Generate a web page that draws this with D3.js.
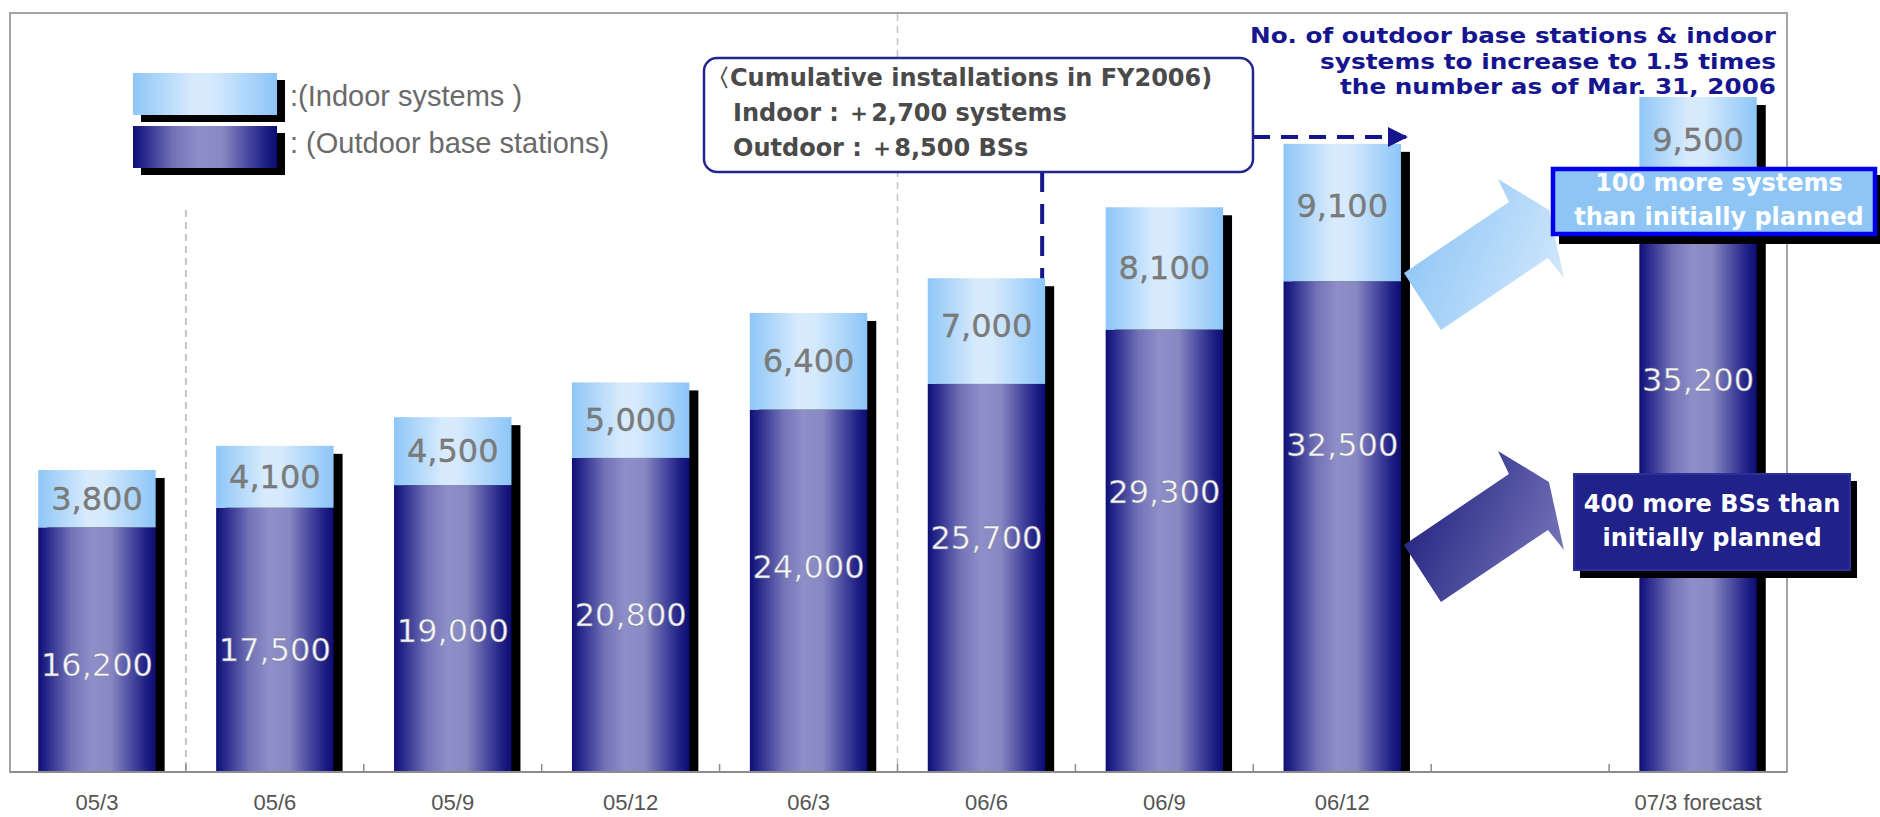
<!DOCTYPE html>
<html>
<head>
<meta charset="utf-8">
<script src="https://cdn.jsdelivr.net/npm/d3@7"></script>
<style>
  html, body { margin: 0; padding: 0; background: #fff; }
  svg { display: block; }
</style>
</head>
<body>
<svg id="chart" width="1880" height="817"></svg>
<script>
// ---------------- data ----------------
const categories = ["05/3", "05/6", "05/9", "05/12", "06/3", "06/6", "06/9", "06/12", "07/3 forecast"];
const outdoor = [16200, 17500, 19000, 20800, 24000, 25700, 29300, 32500, 35200];
const indoor  = [3800, 4100, 4500, 5000, 6400, 7000, 8100, 9100, 9500];
const seriesNames = [":(Indoor systems )", ": (Outdoor base stations)"];
const calloutLines = ["\u3008Cumulative installations in FY2006)", "Indoor :  \uFF0B2,700 systems", "Outdoor :  \uFF0B8,500 BSs"];
const titleLines = ["No. of outdoor base stations & indoor", "systems to increase to 1.5 times", "the number as of Mar. 31, 2006"];
const indoorNote = ["100 more systems", "than initially planned"];
const outdoorNote = ["400 more BSs than", "initially planned"];

// layout-only constants (label placement within each segment, 0 = bottom, 1 = top)
const outdoorLabelFrac = [0.437, 0.46, 0.49, 0.5, 0.566, 0.603, 0.633, 0.666, 0.737];
const indoorLabelFrac  = [0.5, 0.5, 0.5, 0.5, 0.5, 0.55, 0.5, 0.55, 0.7];
const titleWidths = [526, 456, 436];

// ---------------- setup ----------------
const svg = d3.select("#chart");
const slots = categories.slice(0, 8).concat(["_gap"], categories.slice(8));
const x = d3.scaleBand().domain(slots).range([8, 1787]).paddingInner(0.34).paddingOuter(0.17);
const y = d3.scaleLinear().domain([0, 50000]).range([772, 17]);
const bw = x.bandwidth();
const fmt = d3.format(",");

const defs = svg.append("defs");
const gOut = defs.append("linearGradient").attr("id", "gOut").attr("x1", 0).attr("x2", 1).attr("y1", 0).attr("y2", 0);
[[0, "#0e0e76"], [0.08, "#2a2a8c"], [0.28, "#7272b8"], [0.45, "#8e8ec8"], [0.62, "#8888c2"], [0.8, "#4848a0"], [0.93, "#1c1c82"], [1, "#0c0c72"]]
  .forEach(([o, c]) => gOut.append("stop").attr("offset", o).attr("stop-color", c));
const gIn = defs.append("linearGradient").attr("id", "gIn").attr("x1", 0).attr("x2", 1).attr("y1", 0).attr("y2", 0);
[[0, "#8ec6f7"], [0.42, "#d8ebfd"], [0.55, "#d6eafd"], [1, "#8cc5f7"]]
  .forEach(([o, c]) => gIn.append("stop").attr("offset", o).attr("stop-color", c));
const gArrL = defs.append("linearGradient").attr("id", "gArrL").attr("x1", 0).attr("y1", 0.3).attr("x2", 1).attr("y2", 0.7);
[[0, "#8cc4f5"], [1, "#d2e8fc"]].forEach(([o, c]) => gArrL.append("stop").attr("offset", o).attr("stop-color", c));
const gArrD = defs.append("linearGradient").attr("id", "gArrD").attr("x1", 0).attr("y1", 0.3).attr("x2", 1).attr("y2", 0.7);
[[0, "#20207e"], [1, "#7676ba"]].forEach(([o, c]) => gArrD.append("stop").attr("offset", o).attr("stop-color", c));
defs.append("marker").attr("id", "ah").attr("viewBox", "0 0 10 10").attr("refX", 9).attr("refY", 5)
  .attr("markerWidth", 5).attr("markerHeight", 5).attr("markerUnits", "strokeWidth").attr("orient", "auto")
  .append("path").attr("d", "M0,0 L10,5 L0,10 Z").attr("fill", "#16168c");

// ---------------- frame ----------------
svg.append("rect").attr("x", 10).attr("y", 13).attr("width", 1777).attr("height", 759)
  .attr("fill", "none").attr("stroke", "#a3a3a3").attr("stroke-width", 2);

// fiscal-year dashed separators
const bound = i => x(slots[i]) - x.step() * x.paddingInner() / 2;
svg.append("line").attr("x1", bound(1)).attr("x2", bound(1)).attr("y1", 210).attr("y2", 772)
  .attr("stroke", "#c4c4c4").attr("stroke-width", 2).attr("stroke-dasharray", "7,5");
svg.append("line").attr("x1", bound(5)).attr("x2", bound(5)).attr("y1", 14).attr("y2", 772)
  .attr("stroke", "#c4c4c4").attr("stroke-width", 1.5).attr("stroke-dasharray", "7,5");

// ---------------- bars ----------------
const rows = categories.map((c, i) => ({ c, o: outdoor[i], n: indoor[i], i }));
const bars = svg.append("g").selectAll("g").data(rows).join("g");
bars.append("rect").attr("fill", "#000")
  .attr("x", d => x(d.c) + 9).attr("width", bw)
  .attr("y", d => y(d.o + d.n) + 8).attr("height", d => y(0) - y(d.o + d.n) - 8);
bars.append("rect").attr("fill", "url(#gOut)")
  .attr("x", d => x(d.c)).attr("width", bw)
  .attr("y", d => y(d.o)).attr("height", d => y(0) - y(d.o));
bars.append("rect").attr("fill", "url(#gIn)")
  .attr("x", d => x(d.c)).attr("width", bw)
  .attr("y", d => y(d.o + d.n)).attr("height", d => y(d.o) - y(d.o + d.n));

// axis line and ticks at slot boundaries
svg.append("line").attr("x1", 10).attr("x2", 1787).attr("y1", 772).attr("y2", 772)
  .attr("stroke", "#8c8c8c").attr("stroke-width", 2);
svg.append("g").selectAll("line").data(d3.range(1, slots.length)).join("line")
  .attr("x1", i => bound(i)).attr("x2", i => bound(i)).attr("y1", 772).attr("y2", 764)
  .attr("stroke", "#8c8c8c").attr("stroke-width", 1.5);

const axis = d3.axisBottom(x).tickValues(categories).tickSize(0).tickPadding(0);
const ag = svg.append("g").attr("transform", "translate(0,772)").call(axis);
ag.select(".domain").remove();
ag.selectAll("text").attr("font-family", "Liberation Sans, Arial, sans-serif").attr("font-size", 22)
  .attr("fill", "#555").attr("dy", null).attr("y", 38);

// value labels
const lab = svg.append("g").attr("font-family", "DejaVu Sans, Verdana, sans-serif").attr("font-size", 32)
  .attr("text-anchor", "middle").attr("dominant-baseline", "central");
lab.selectAll("text.o").data(rows).join("text").attr("class", "o")
  .attr("x", d => x(d.c) + bw / 2)
  .attr("y", d => y(d.o * outdoorLabelFrac[d.i]))
  .attr("fill", "#f6f6f6").attr("stroke", "#7a7a9a").attr("stroke-width", 0.5)
  .text(d => fmt(d.o));
lab.selectAll("text.n").data(rows).join("text").attr("class", "n")
  .attr("x", d => x(d.c) + bw / 2)
  .attr("y", d => y(d.o + d.n * indoorLabelFrac[d.i]))
  .attr("fill", "#7c7c7c").attr("stroke", "#6a6a6a").attr("stroke-width", 0.3)
  .text(d => fmt(d.n));

// ---------------- legend ----------------
const lg = svg.append("g");
[["url(#gIn)", 73, 106], ["url(#gOut)", 126, 153]].forEach(([f, ty, by], k) => {
  lg.append("rect").attr("x", 141).attr("y", ty + 7).attr("width", 144).attr("height", 42).attr("fill", "#000");
  lg.append("rect").attr("x", 133).attr("y", ty).attr("width", 144).attr("height", 42).attr("fill", f);
  lg.append("text").attr("x", 290).attr("y", by).attr("font-family", "Liberation Sans, Arial, sans-serif")
    .attr("font-size", 29).attr("fill", "#6a6a6a").text(seriesNames[k]);
});

// ---------------- callout ----------------
const i66 = categories.indexOf("06/6"), i612 = categories.indexOf("06/12");
const vx = x(categories[i66]) + bw - 3;
svg.append("line").attr("x1", vx).attr("x2", vx).attr("y1", 172).attr("y2", y(outdoor[i66] + indoor[i66]))
  .attr("stroke", "#16168c").attr("stroke-width", 4).attr("stroke-dasharray", "20,12");
svg.append("line").attr("x1", 1253).attr("x2", x(categories[i612]) + bw + 5).attr("y1", 137).attr("y2", 137)
  .attr("stroke", "#16168c").attr("stroke-width", 4).attr("stroke-dasharray", "17,11")
  .attr("marker-end", "url(#ah)");
svg.append("rect").attr("x", 704).attr("y", 58).attr("width", 549).attr("height", 114).attr("rx", 13)
  .attr("fill", "#fff").attr("stroke", "#25258e").attr("stroke-width", 2.5);
svg.append("g").selectAll("text").data(calloutLines).join("text")
  .attr("x", (d, i) => i === 0 ? 706 : 733).attr("y", (d, i) => 86 + i * 35)
  .attr("font-family", "DejaVu Sans, Verdana, sans-serif").attr("font-weight", "bold").attr("font-size", 24)
  .attr("fill", "#4a4a4a").text(d => d);

// title (top right)
svg.append("g").selectAll("text").data(titleLines).join("text")
  .attr("x", (d, i) => 1776 - titleWidths[i]).attr("y", (d, i) => 43 + i * 25.5)
  .attr("textLength", (d, i) => titleWidths[i]).attr("lengthAdjust", "spacingAndGlyphs")
  .attr("font-family", "DejaVu Sans, Verdana, sans-serif").attr("font-weight", "bold").attr("font-size", 21.6)
  .attr("fill", "#15158f").text(d => d);

// ---------------- arrows ----------------
const arrowShape = [[0, 0], [105, -71], [94, -94], [145, -63], [160, 5], [144, -15], [37, 57]];
const ax0 = x(categories[i612]) + bw + 3;
const arrowPath = (ox, oy) => "M" + arrowShape.map(p => (ox + p[0]) + "," + (oy + p[1])).join("L") + "Z";
svg.append("path").attr("d", arrowPath(ax0, 273)).attr("fill", "url(#gArrL)");
svg.append("path").attr("d", arrowPath(ax0, 545)).attr("fill", "url(#gArrD)");

// ---------------- note boxes ----------------
svg.append("rect").attr("x", 1559).attr("y", 175).attr("width", 325).attr("height", 69).attr("fill", "#000");
svg.append("rect").attr("x", 1553).attr("y", 169).attr("width", 322).attr("height", 65)
  .attr("fill", "#8ec5f5").attr("stroke", "#0000ee").attr("stroke-width", 4.5);
svg.append("g").selectAll("text").data(indoorNote).join("text")
  .attr("x", 1719).attr("y", (d, i) => 191 + i * 34).attr("text-anchor", "middle")
  .attr("font-family", "DejaVu Sans, Verdana, sans-serif").attr("font-weight", "bold").attr("font-size", 24)
  .attr("fill", "#fff").text(d => d);

svg.append("rect").attr("x", 1580).attr("y", 481).attr("width", 277).attr("height", 97).attr("fill", "#000");
svg.append("rect").attr("x", 1574).attr("y", 474).attr("width", 276).attr("height", 96)
  .attr("fill", "#21218a").attr("stroke", "#2f2f9c").attr("stroke-width", 2);
svg.append("g").selectAll("text").data(outdoorNote).join("text")
  .attr("x", 1712).attr("y", (d, i) => 512 + i * 34).attr("text-anchor", "middle")
  .attr("font-family", "DejaVu Sans, Verdana, sans-serif").attr("font-weight", "bold").attr("font-size", 24)
  .attr("fill", "#fff").text(d => d);
</script>
</body>
</html>
